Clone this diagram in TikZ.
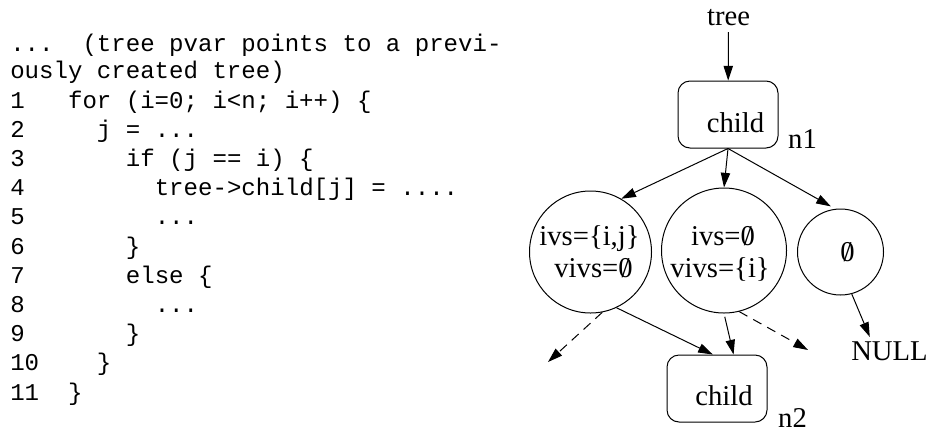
\documentclass[tikz,border=0pt]{standalone}
\usepackage{fontspec}
\setmainfont{Liberation Serif}
\setmonofont{Liberation Mono}
\usetikzlibrary{arrows.meta}

% slashed zero used for the empty set
\newcommand\eset{\ooalign{0\cr\hidewidth/\hidewidth\cr}}

\begin{document}
\begin{tikzpicture}[x=0.75pt,y=-0.75pt,
  code/.style={font=\ttfamily\frenchspacing\fontsize{18.06}{20}\selectfont,
               anchor=base west, inner sep=0pt},
  lbl/.style={font=\fontsize{21.5}{24}\selectfont, anchor=base, inner sep=0pt},
  box/.style={draw, rounded corners=9pt, minimum width=75pt,
              minimum height=50.25pt, inner sep=0pt, line width=0.75pt},
  vcirc/.style={draw, circle, inner sep=0pt, line width=0.75pt},
  conn/.style={-{Triangle[length=11pt,width=7pt]}, line width=0.75pt},
  dconn/.style={conn, dash pattern=on 7pt off 5pt}]

\useasboundingbox (0,0) rectangle (931,433);

% ---- source listing ----
\node[code] (l0)  at (10,51)    {...~~(tree pvar points to a previ-};
\node[code] (l1)  at (10,78.5)  {ously created tree)};
\node[code] (l2)  at (10,108)   {1~~~for (i=0; i<n; i++) \{};
\node[code] (l3)  at (10,137.2) {2~~~~~j = ...};
\node[code] (l4)  at (10,166.4) {3~~~~~~~if (j == i) \{};
\node[code] (l5)  at (10,195.6) {4~~~~~~~~~tree->child[j] = ....};
\node[code] (l6)  at (10,224.8) {5~~~~~~~~~...};
\node[code] (l7)  at (10,254)   {6~~~~~~~\}};
\node[code] (l8)  at (10,283.2) {7~~~~~~~else \{};
\node[code] (l9)  at (10,312.4) {8~~~~~~~~~...};
\node[code] (l10) at (10,341.6) {9~~~~~~~\}};
\node[code] (l11) at (10,370.8) {10~~~~\}};
\node[code] (l12) at (10,400)   {11~~\}};

% ---- tree structure ----
\node[lbl, inner sep=5pt] (tree) at (728.5,25) {tree};

\node[box] (n1) at (728,114.5) {};
\node[lbl] (n1t) at (735.5,132) {child};
\node[lbl] (n1l) at (802.5,148) {n1};

\node[vcirc, minimum size=91.5pt]  (c1) at (590.5,252) {};
\node[lbl] (c1a) at (589.5,245) {ivs=\{i,j\}};
\node[lbl] (c1b) at (593.5,277) {vivs=\eset};

\node[vcirc, minimum size=93.75pt] (c2) at (724,250.5) {};
\node[lbl] (c2a) at (723,245) {ivs=\eset};
\node[lbl] (c2b) at (720,277) {vivs=\{i\}};

\node[vcirc, minimum size=64.5pt]  (c3) at (840.5,252) {};
\node[lbl] (c3a) at (847.5,261) {\eset};

\node[lbl, inner sep=3pt] (nul) at (889.5,360) {NULL};

\node[box] (n2) at (717,388.5) {};
\node[lbl] (n2t) at (724,405) {child};
\node[lbl] (n2l) at (792.5,427.5) {n2};

\coordinate (d1) at (548,362);
\coordinate (d2) at (808,350);

% ---- connectors ----
\draw[conn] (tree) -- (n1);
\draw[conn] (n1.south) -- (c1.60);
\draw[conn] (n1.south) -- (c2.north);
\draw[conn, shorten >=3.75pt] (n1.south) -- (c3.97);

\draw[dconn] (c1.-79) -- (d1);
\draw[conn]  (c1.-65) -- (n2.97);
\draw[conn, shorten <=2.5pt] (c2.south) -- (n2.64);
\draw[dconn] (c2.-76) -- (d2);
\draw[conn]  (c3.-75) -- (nul.145);

\end{tikzpicture}
\end{document}
